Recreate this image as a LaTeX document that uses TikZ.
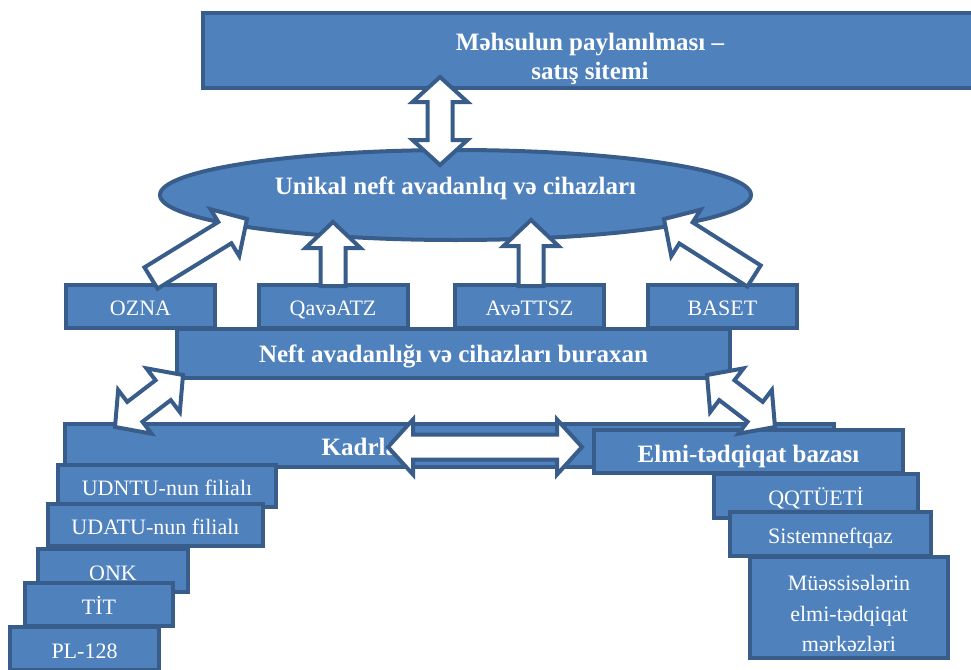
\documentclass[tikz,border=0pt]{standalone}
\usepackage{fontspec}
\setmainfont{Liberation Serif}
\usetikzlibrary{calc,shapes.geometric}

\definecolor{boxfill}{HTML}{4F81BD}
\definecolor{boxline}{HTML}{385D8A}

% block arrow with one head, from #1 to #2
\newcommand{\onearrow}[2]{%
  \coordinate (hb) at ($(#2)!26pt!(#1)$);
  \draw[arrow_style] ($(#1)!12.5pt!-90:(#2)$) -- ($(hb)!12.5pt!90:(#1)$) -- ($(hb)!27.5pt!90:(#1)$) -- (#2)
    -- ($(hb)!27.5pt!-90:(#1)$) -- ($(hb)!12.5pt!-90:(#1)$) -- ($(#1)!12.5pt!90:(#2)$) -- cycle;}
% block arrow with two heads, between #1 and #2
\newcommand{\twoarrow}[2]{%
  \coordinate (ha) at ($(#1)!25pt!(#2)$);
  \coordinate (hb) at ($(#2)!25pt!(#1)$);
  \draw[arrow_style] (#1) -- ($(ha)!27.5pt!90:(#2)$) -- ($(ha)!12.5pt!90:(#2)$) -- ($(hb)!12.5pt!-90:(#1)$)
    -- ($(hb)!27.5pt!-90:(#1)$) -- (#2) -- ($(hb)!27.5pt!90:(#1)$) -- ($(hb)!12.5pt!90:(#1)$)
    -- ($(ha)!12.5pt!-90:(#2)$) -- ($(ha)!27.5pt!-90:(#2)$) -- cycle;}

\begin{document}
\begin{tikzpicture}[x=1pt,y=-1pt]
\tikzstyle{box_style} = [rectangle, draw=boxline, fill=boxfill, line width=4pt, inner sep=0pt, text=white]
\tikzstyle{oval_style} = [ellipse, draw=boxline, fill=boxfill, line width=4pt, inner sep=0pt, text=white]
\tikzstyle{arrow_style} = [draw=boxline, fill=white, line width=4pt]
\tikzstyle{bold_style} = [font=\fontsize{25}{28.5}\selectfont\bfseries, text=white]
\tikzstyle{plain_style} = [font=\fontsize{22}{30.5}\selectfont, text=white]
\tikzstyle{small_box} = [box_style, plain_style, minimum width=149pt, minimum height=43pt, text height=19pt, text depth=0pt]
    \useasboundingbox (0,0) rectangle (971,669);
    \clip (0,0) rectangle (971,669);

    % sales system and unique equipment
    \node[box_style, minimum width=774pt, minimum height=75pt] (mehsul) at (590,50.5) {};
    \node[bold_style, align=center, anchor=north] (mehsultext) at (590,30) {Məhsulun paylanılması –\\satış sitemi};
    \node[oval_style, bold_style, minimum width=591pt, minimum height=90pt, text height=0pt, text depth=2pt] (unikal) at (455.5,195) {Unikal neft avadanlıq və cihazları};

    \coordinate (u1) at (440,165);
    \coordinate (u2) at (440,77);
    \twoarrow{u1}{u2}

    % producers
    \node[small_box] (ozna) at (140.5,306) {OZNA};
    \node[small_box] (qave) at (333,306) {QavəATZ};
    \node[small_box] (avett) at (529.5,306) {AvəTTSZ};
    \node[small_box] (baset) at (722.5,306) {BASET};

    \coordinate (a1) at (151,278);
    \coordinate (b1) at (247,219);
    \coordinate (a2) at (333,286);
    \coordinate (b2) at (333,222);
    \coordinate (a3) at (531,286);
    \coordinate (b3) at (531,220);
    \coordinate (a4) at (754,276);
    \coordinate (b4) at (664,219);
    \onearrow{a1}{b1}
    \onearrow{a2}{b2}
    \onearrow{a3}{b3}
    \onearrow{a4}{b4}

    \node[box_style, bold_style, minimum width=553pt, minimum height=49pt, text height=17pt, text depth=0pt] (neft) at (453.5,353.5) {Neft avadanlığı və cihazları buraxan};

    % staff base
    \node[box_style, bold_style, minimum width=769pt, minimum height=43pt, text height=20pt, text depth=0pt] (kadr) at (449.5,445.5) {Kadrlar hazırlığı bazası};
    \node[box_style, plain_style, minimum width=218pt, minimum height=42pt, text height=18pt, text depth=0pt] (udntu) at (167,486) {UDNTU-nun filialı};
    \node[box_style, plain_style, minimum width=215pt, minimum height=42pt, text height=18pt, text depth=0pt] (udatu) at (155.5,525) {UDATU-nun filialı};
    \node[small_box, minimum width=150pt] (onk) at (113,570.5) {ONK};
    \node[small_box, minimum width=148pt] (tit) at (99,604.5) {TİT};
    \node[small_box] (pl) at (84.5,648.5) {PL-128};

    % research base
    \node[box_style, bold_style, minimum width=309pt, minimum height=43pt, text height=21pt, text depth=0pt] (elmi) at (748.5,451.5) {Elmi-tədqiqat bazası};
    \node[box_style, plain_style, minimum width=204pt, minimum height=44pt, text height=18pt, text depth=0pt] (qqt) at (816,496) {QQTÜETİ};
    \node[box_style, plain_style, minimum width=201pt, minimum height=44pt, text height=18pt, text depth=0pt] (sistem) at (830.5,534) {Sistemneftqaz};
    \node[box_style, minimum width=198pt, minimum height=101pt] (muess) at (849,607.5) {};
    \node[plain_style, align=center, anchor=north] (muesstext) at (849,572) {Müəssisələrin\\elmi-tədqiqat\\mərkəzləri};

    \coordinate (k1) at (388,447);
    \coordinate (k2) at (582,447);
    \twoarrow{k1}{k2}

    \coordinate (l1) at (183,375);
    \coordinate (l2) at (115,427);
    \coordinate (r1) at (707,375);
    \coordinate (r2) at (775,427);
    \twoarrow{l1}{l2}
    \twoarrow{r1}{r2}
\end{tikzpicture}
\end{document}
